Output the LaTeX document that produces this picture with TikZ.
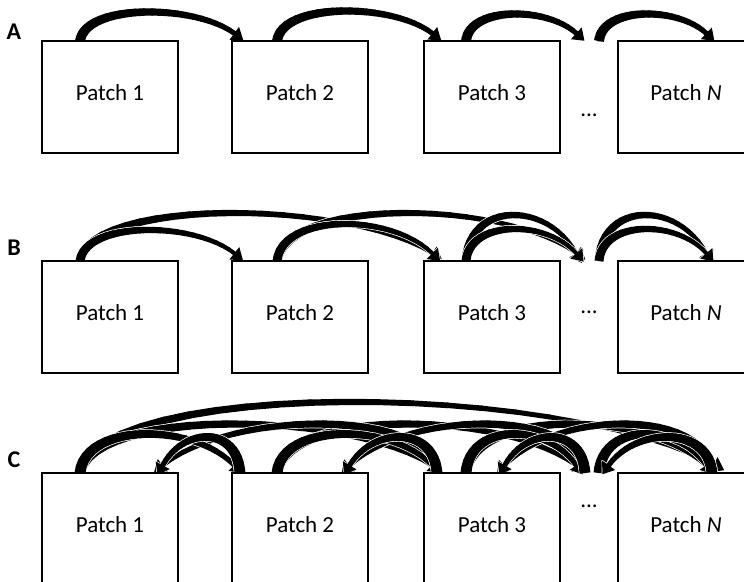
\documentclass[tikz,border=0pt]{standalone}
\usepackage{fontspec}
\setmainfont{Carlito}

\pgfdeclarelayer{bg}
\pgfdeclarelayer{arcs}
\pgfsetlayers{bg,arcs,main}

\tikzset{
  patch/.style={draw, line width=1.6pt, fill=white, minimum width=136pt,
    minimum height=112pt, inner sep=0pt, outer sep=0pt, anchor=north west},
  ptext/.style={font=\fontsize{23}{27}\selectfont, inner sep=0pt},
  rowlabel/.style={font=\fontsize{24}{28}\selectfont\bfseries, inner sep=0pt},
  ellip/.style={font=\fontsize{23}{27}\selectfont, inner sep=0pt},
}

% number of straight pieces used for one tapered arc
\def\lkN{24}

% point on the current Bezier (A,B,C,D) at time #1 -> \lkbx, \lkby
\newcommand\lkbez[1]{%
  \pgfmathsetmacro\lkbx{(1-#1)^3*(\lkAx)+3*(1-#1)^2*(#1)*(\lkBx)+3*(1-#1)*(#1)^2*(\lkCx)+(#1)^3*(\lkDx)}%
  \pgfmathsetmacro\lkby{(1-#1)^3*(\lkAy)+3*(1-#1)^2*(#1)*(\lkBy)+3*(1-#1)*(#1)^2*(\lkCy)+(#1)^3*(\lkDy)}%
}

% shaft of the current arc: colour, extra width, tail width, end width
% the first piece has a flat end so the tail sits flush on the box top
\newcommand\lkshaft[4]{%
  \foreach \i in {1,...,\lkN}{%
    \pgfmathsetmacro\ta{(\i-1)/\lkN}%
    \pgfmathsetmacro\tb{\i/\lkN}%
    \pgfmathsetmacro\lkw{#3+(#4-#3)*(\ta+\tb)/2+#2}%
    \ifnum\i=1 \def\lkcap{butt}\else\def\lkcap{round}\fi
    \lkbez{\ta}\let\xa\lkbx\let\ya\lkby
    \lkbez{\tb}%
    \draw[#1, line width=\lkw pt, line cap=\lkcap] (\xa pt,\ya pt) -- (\lkbx pt,\lkby pt);
  }%
}

% tapered curved arrow from #1 to #2
% #3 rise, #4 tail width, #5 end width, #6 head length, #7 head width
\newcommand\curvedlink[7]{%
  \path (#1); \pgfgetlastxy{\lkSx}{\lkSy}%
  \path (#2); \pgfgetlastxy{\lkEx}{\lkEy}%
  \pgfmathsetmacro\lkL{abs((\lkEx)-(\lkSx))}%
  \pgfmathsetmacro\lkS{sign((\lkEx)-(\lkSx))}%
  \pgfmathsetmacro\lkAx{\lkSx}%
  \pgfmathsetmacro\lkAy{\lkSy}%
  \pgfmathsetmacro\lkBx{(\lkSx)+(\lkS)*0.03*(\lkL)}%
  \pgfmathsetmacro\lkBy{(\lkSy)+4/3*#3}%
  \pgfmathsetmacro\lkDx{(\lkEx)-(\lkS)*0.7*#6}%
  \pgfmathsetmacro\lkDy{(\lkEy)+0.7*#6}%
  \pgfmathsetmacro\lkCx{(\lkDx)-(\lkS)*0.25*(\lkL)}%
  \pgfmathsetmacro\lkCy{\lkBy}%
  \pgfmathsetmacro\lkux{(\lkDx)-(\lkCx)}%
  \pgfmathsetmacro\lkuy{(\lkDy)-(\lkCy)}%
  \pgfmathsetmacro\lkn{veclen(\lkux,\lkuy)}%
  \pgfmathsetmacro\lkux{(\lkux)/(\lkn)}%
  \pgfmathsetmacro\lkuy{(\lkuy)/(\lkn)}%
  \pgfmathsetmacro\lkTx{(\lkDx)+#6*(\lkux)}%
  \pgfmathsetmacro\lkTy{(\lkDy)+#6*(\lkuy)}%
  \pgfmathsetmacro\lkPx{(\lkDx)-0.5*#7*(\lkuy)}%
  \pgfmathsetmacro\lkPy{(\lkDy)+0.5*#7*(\lkux)}%
  \pgfmathsetmacro\lkQx{(\lkDx)+0.5*#7*(\lkuy)}%
  \pgfmathsetmacro\lkQy{(\lkDy)-0.5*#7*(\lkux)}%
  \lkshaft{white}{1.4}{#4}{#5}%
  \filldraw[white, line width=1.4pt, line join=round]
    (\lkPx pt,\lkPy pt) -- (\lkTx pt,\lkTy pt) -- (\lkQx pt,\lkQy pt) -- cycle;
  \lkshaft{black}{0}{#4}{#5}%
  \fill[black] (\lkPx pt,\lkPy pt) -- (\lkTx pt,\lkTy pt) -- (\lkQx pt,\lkQy pt) -- cycle;
}

\begin{document}
\begin{tikzpicture}[x=1pt,y=-1pt]
\useasboundingbox (0,0) rectangle (744,581);
\begin{pgfonlayer}{bg}
  \fill[white] (0,0) rectangle (744,581);
\end{pgfonlayer}

% three rows of patches
\foreach \r/\y/\dy/\ly/\lab in {a/41/74/-9/A, b/261/51/-13/B, c/473/33/-13/C} {
  \node[patch] (\r-p1) at (42,\y) {};
  \node[patch] (\r-p2) at (232,\y) {};
  \node[patch] (\r-p3) at (424,\y) {};
  \node[patch] (\r-pn) at (618,\y) {};
  \node[ptext] (\r-t1) at ([yshift=4pt]\r-p1.center) {Patch 1};
  \node[ptext] (\r-t2) at ([yshift=4pt]\r-p2.center) {Patch 2};
  \node[ptext] (\r-t3) at ([yshift=4pt]\r-p3.center) {Patch 3};
  \node[ptext] (\r-tn) at ([yshift=4pt]\r-pn.center) {Patch \textit{N}};
  \node[ellip] (\r-dots) at (589,\y+\dy) {...};
  \node[rowlabel] (\r-lab) at (14,\y+\ly) {\lab};
  % rightward ports
  \coordinate (\r-p1-out) at ([xshift=38pt]\r-p1.north west);
  \coordinate (\r-p2-in)  at ([xshift=10pt]\r-p2.north west);
  \coordinate (\r-p2-out) at ([xshift=45pt]\r-p2.north west);
  \coordinate (\r-p3-in)  at ([xshift=16pt]\r-p3.north west);
  \coordinate (\r-p3-out) at ([xshift=42pt]\r-p3.north west);
  \coordinate (\r-dots-in)  at ([xshift=24pt]\r-p3.north east);
  \coordinate (\r-dots-out) at ([xshift=-19pt]\r-pn.north west);
  \coordinate (\r-pn-in)  at ([xshift=96pt]\r-pn.north west);
  % leftward ports
  \coordinate (\r-p2-back) at ([xshift=8pt]\r-p2.north west);
  \coordinate (\r-p3-back) at ([xshift=13pt]\r-p3.north west);
  \coordinate (\r-dots-back) at ([xshift=25pt]\r-p3.north east);
  \coordinate (\r-pn-back) at ([xshift=94pt]\r-pn.north west);
  \coordinate (\r-p1-left) at ([xshift=113pt]\r-p1.north west);
  \coordinate (\r-p2-left) at ([xshift=110pt]\r-p2.north west);
  \coordinate (\r-p3-left) at ([xshift=73pt]\r-p3.north west);
  \coordinate (\r-dots-left) at ([xshift=-17pt]\r-pn.north west);
}
\coordinate (c-pn-far) at ([xshift=104pt]c-pn.north west);

\begin{pgfonlayer}{arcs}
  % A: neighbour links
  \curvedlink{a-p1-out}{a-p2-in}{28}{10}{5}{11}{16}
  \curvedlink{a-p2-out}{a-p3-in}{29}{10}{5}{11}{16}
  \curvedlink{a-p3-out}{a-dots-in}{26}{10}{5}{11}{16}
  \curvedlink{a-dots-out}{a-pn-in}{26}{10}{5}{11}{16}

  % B: links to the next two patches
  \curvedlink{b-p1-out}{b-p3-in}{47}{9}{3.5}{11}{16}
  \curvedlink{b-p2-out}{b-dots-in}{47}{9}{3.5}{11}{16}
  \curvedlink{b-p3-out}{b-dots-in}{45}{9}{4}{11}{16}
  \curvedlink{b-dots-out}{b-pn-in}{45}{9}{4}{11}{16}
  \curvedlink{b-p1-out}{b-p2-in}{30}{9}{4}{11}{16}
  \curvedlink{b-p2-out}{b-p3-in}{36}{9}{4}{11}{16}
  \curvedlink{b-p3-out}{b-dots-in}{31}{9}{4}{11}{16}
  \curvedlink{b-dots-out}{b-pn-in}{31}{9}{4}{11}{16}

  % C: links in both directions
  \curvedlink{c-p1-out}{c-pn-far}{70}{9}{3.5}{12}{17}
  \curvedlink{c-p1-out}{c-p3-in}{48}{10}{4.5}{11}{16}
  \curvedlink{c-p2-out}{c-dots-in}{48}{10}{4.5}{11}{16}
  \curvedlink{c-p3-out}{c-pn-in}{48}{10}{4.5}{11}{16}
  \curvedlink{c-p3-back}{c-p1-left}{48}{10}{4.5}{11}{16}
  \curvedlink{c-dots-back}{c-p2-left}{48}{10}{4.5}{11}{16}
  \curvedlink{c-pn-back}{c-p3-left}{48}{10}{4.5}{11}{16}
  \curvedlink{c-p1-out}{c-p2-in}{38}{11}{5}{11}{16}
  \curvedlink{c-p2-out}{c-p3-in}{38}{11}{5}{11}{16}
  \curvedlink{c-p3-out}{c-dots-in}{38}{11}{5}{11}{16}
  \curvedlink{c-dots-out}{c-pn-in}{38}{11}{5}{11}{16}
  \curvedlink{c-p2-back}{c-p1-left}{35}{11}{5}{11}{16}
  \curvedlink{c-p3-back}{c-p2-left}{35}{11}{5}{11}{16}
  \curvedlink{c-dots-back}{c-p3-left}{35}{11}{5}{11}{16}
  \curvedlink{c-pn-back}{c-dots-left}{35}{11}{5}{11}{16}
\end{pgfonlayer}
\end{tikzpicture}
\end{document}
